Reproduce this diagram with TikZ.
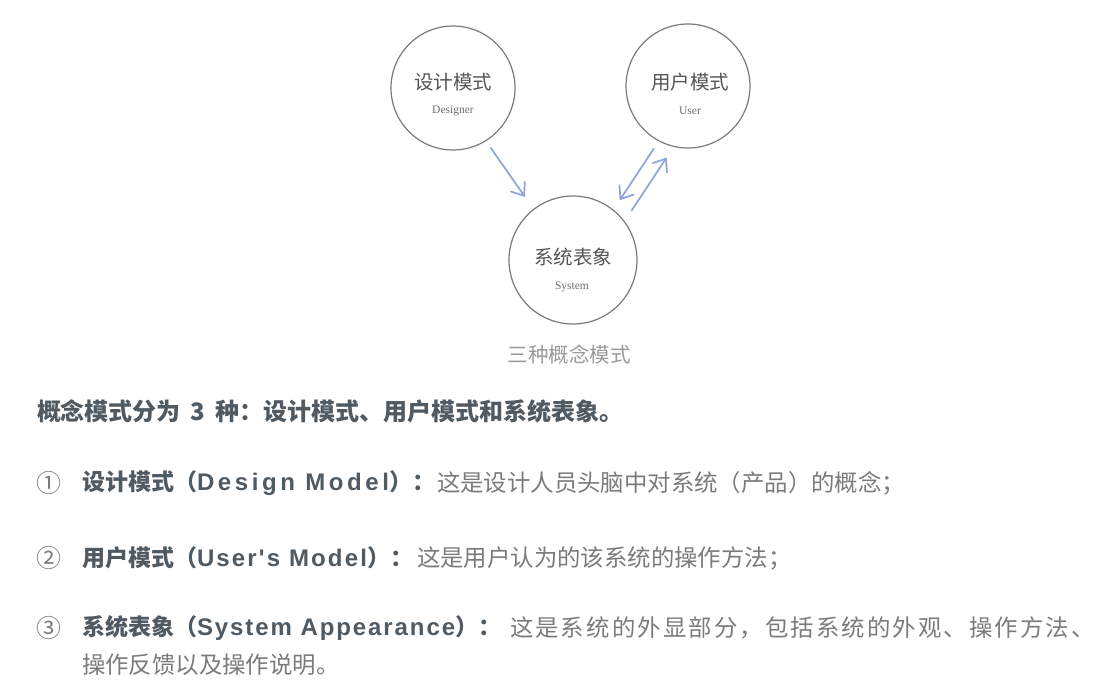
\documentclass[tikz,border=0pt]{standalone}
\usepackage{fontspec}
\usetikzlibrary{arrows.meta}
\setmainfont{Noto Sans CJK SC}
\newfontfamily\cjk{Noto Sans CJK SC}
\newfontfamily\serifen{Liberation Serif}
\newfontfamily\latb{Liberation Sans}
\definecolor{circ}{HTML}{7A7A7A}
\definecolor{arrowblue}{HTML}{8EA3DD}
\definecolor{headc}{HTML}{4F5A63}
\definecolor{bodyc}{HTML}{7B7B7B}
\definecolor{capc}{HTML}{9A9A9A}
\definecolor{inc}{HTML}{555555}
% spaced bold Latin inside the terms
\newcommand{\spacedlatin}[2]{{\latb\bfseries\fontsize{24}{24}\selectfont\addfontfeature{LetterSpace=#1}#2}}
\begin{document}
\begin{tikzpicture}[x=1pt,y=-1pt,
  every node/.style={inner sep=0pt, outer sep=0pt},
  model/.style={circle, draw=circ, line width=1.2pt, minimum size=#1},
  model/.default=124pt,
  cnlabel/.style={font=\cjk\fontsize{19.5}{20}\selectfont, text=inc},
  enlabel/.style={font=\serifen\fontsize{11.5}{12}\selectfont, text=inc!85},
  flow/.style={draw=arrowblue, line width=1.7pt, line cap=round,
    -{Straight Barb[length=11pt,width=17pt,line cap=round]}},
  heading/.style={anchor=west, font=\cjk\bfseries\fontsize{24}{24}\selectfont, text=headc},
  numc/.style={anchor=west, font=\cjk\fontsize{25}{25}\selectfont, text=bodyc},
  term/.style={anchor=west, font=\cjk\bfseries\fontsize{23}{24}\selectfont, text=headc},
  body/.style={anchor=west, font=\cjk\fontsize{23.4}{24}\selectfont, text=bodyc},
  caption/.style={font=\cjk\fontsize{20.5}{21}\selectfont, text=capc}
]
\fill[white] (0,0) rectangle (1120,696);
\useasboundingbox (0,0) rectangle (1120,696);

% the three models
\node[model] (d) at (453,88) {};
\node[model] (u) at (688,86) {};
\node[model=128pt] (s) at (573,260) {};

\node[cnlabel] (dcn) at (453,82) {设计模式};
\node[enlabel] (den) at (453,111) {Designer};
\node[cnlabel] (ucn) at (690,82) {用户模式};
\node[enlabel] (uen) at (690,111) {User};
\node[cnlabel] (scn) at (573,257) {系统表象};
\node[enlabel] (sen) at (572,287) {System};

% relations between the models
\draw[flow, shorten <=73pt, shorten >=77pt, transform canvas={xshift=-4pt}] (d.center) -- (s.center);
\draw[flow, shorten <=71pt, shorten >=75.6pt, transform canvas={xshift=5pt,yshift=-3.3pt}] (u.center) -- (s.center);
\draw[flow, shorten <=73.6pt, shorten >=71.3pt, transform canvas={xshift=18pt,yshift=-12pt}] (s.center) -- (u.center);

\node[caption] (cap) at (569,355) {三种概念模式};

% explanatory text
\node[heading] (h) at (37,411) {概念模式分为\hspace{10pt}3\hspace{10pt}种：设计模式、用户模式和系统表象。};

\node[numc] (n1) at (36,483) {①};
\node[term] (t1) at (82,483) {设计模式（\spacedlatin{15}{Design Model}）：};
\node[body] (b1) at (437,483) {这是设计人员头脑中对系统（产品）的概念；};

\node[numc] (n2) at (36,558) {②};
\node[term] (t2) at (82,558) {用户模式（\spacedlatin{9}{User's Model}）：};
\node[body] (b2) at (417,558) {这是用户认为的该系统的操作方法；};

\node[numc] (n3) at (36,628) {③};
\node[term] (t3) at (82,628) {系统表象（\spacedlatin{8}{System Appearance}）：};
\node[body] (b3) at (510,628) {\addfontfeature{LetterSpace=9}这是系统的外显部分，包括系统的外观、操作方法、};
\node[body] (b3b) at (82,665) {操作反馈以及操作说明。};
\end{tikzpicture}
\end{document}
